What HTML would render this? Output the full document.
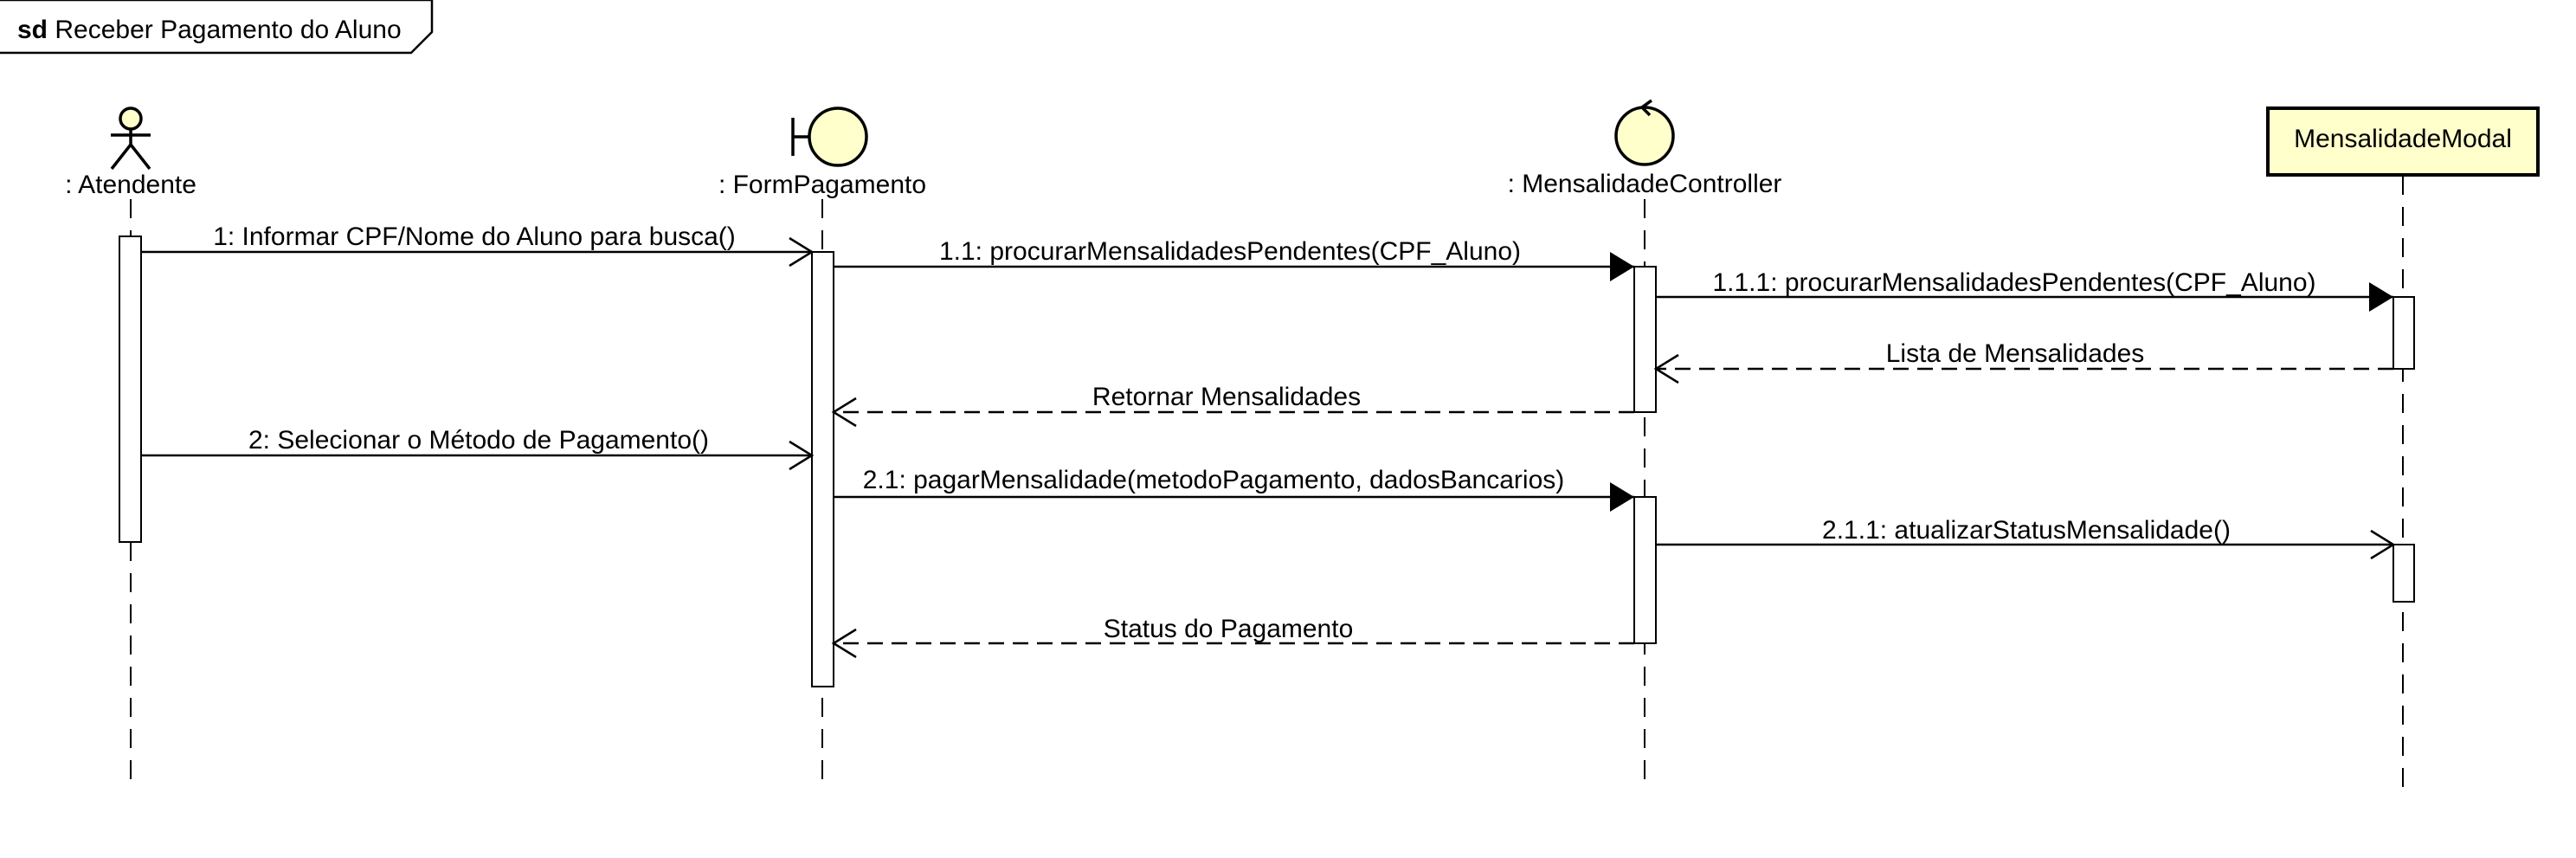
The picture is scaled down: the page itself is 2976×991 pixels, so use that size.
<!DOCTYPE html>
<html><head><meta charset="utf-8"><style>
html,body{margin:0;padding:0;background:#fff;}
svg{display:block;}
text{font-family:"Liberation Sans",Arial,sans-serif;font-size:30px;fill:#000;}
</style></head><body>
<svg width="2976" height="991" viewBox="0 0 2976 991" xmlns="http://www.w3.org/2000/svg">
<defs>
<marker id="f" markerWidth="30" markerHeight="34" refX="28" refY="17" orient="auto" markerUnits="userSpaceOnUse"><path d="M0,0 L28,17 L0,34 Z" fill="#000"/></marker>
</defs>
<path d="M0,0 L499,0 L499,37 L475,61 L0,61" fill="none" stroke="#000" stroke-width="2.5"/>
<text x="20" y="44"><tspan font-weight="bold">sd</tspan> Receber Pagamento do Aluno</text>

<g stroke="#000" stroke-width="2" stroke-dasharray="22,14" fill="none">
<line x1="151" y1="230" x2="151" y2="912"/>
<line x1="950" y1="230" x2="950" y2="912"/>
<line x1="1900" y1="230" x2="1900" y2="912"/>
<line x1="2776" y1="203" x2="2776" y2="912"/>
</g>

<circle cx="151" cy="137" r="12" fill="#ffffcc" stroke="#000" stroke-width="3.5"/>
<g stroke="#000" stroke-width="3.5" fill="none">
<line x1="151" y1="149" x2="151" y2="167"/>
<line x1="128" y1="156" x2="174" y2="156"/>
<path d="M129,195 L151,167 L173,195"/>
</g>
<text x="151" y="223" text-anchor="middle">: Atendente</text>

<g stroke="#000" stroke-width="3.5">
<line x1="916" y1="136" x2="916" y2="180"/>
<line x1="916" y1="158" x2="935" y2="158"/>
<circle cx="968" cy="158" r="33" fill="#ffffcc"/>
</g>
<text x="950" y="223" text-anchor="middle">: FormPagamento</text>

<circle cx="1900" cy="157" r="33" fill="#ffffcc" stroke="#000" stroke-width="3.5"/>
<path d="M1908,116 L1897,124 L1906,133" fill="none" stroke="#000" stroke-width="3.5"/>
<text x="1900" y="222" text-anchor="middle">: MensalidadeController</text>

<rect x="2620" y="125" width="312" height="77" fill="#ffffcc" stroke="#000" stroke-width="4"/>
<text x="2776" y="170" text-anchor="middle">MensalidadeModal</text>

<g fill="#fff" stroke="#000" stroke-width="2">
<rect x="138" y="273" width="25" height="353"/>
<rect x="938" y="291" width="25" height="502"/>
<rect x="1888" y="308" width="25" height="168"/>
<rect x="1888" y="574" width="25" height="169"/>
<rect x="2765" y="343" width="24" height="83"/>
<rect x="2765" y="629" width="24" height="66"/>
</g>

<g stroke="#000" stroke-width="2.5" fill="none">
<line x1="163" y1="291" x2="938" y2="291"/>
<path d="M912,275 L938,291 L912,307"/>
<line x1="963" y1="308" x2="1888" y2="308" marker-end="url(#f)"/>
<line x1="1913" y1="343" x2="2765" y2="343" marker-end="url(#f)"/>
<line x1="2765" y1="426" x2="1913" y2="426" stroke-dasharray="18,10"/>
<path d="M1939,410 L1913,426 L1939,442"/>
<line x1="1888" y1="476" x2="963" y2="476" stroke-dasharray="18,10"/>
<path d="M989,460 L963,476 L989,492"/>
<line x1="163" y1="526" x2="938" y2="526"/>
<path d="M912,510 L938,526 L912,542"/>
<line x1="963" y1="574" x2="1888" y2="574" marker-end="url(#f)"/>
<line x1="1913" y1="629" x2="2765" y2="629"/>
<path d="M2739,613 L2765,629 L2739,645"/>
<line x1="1888" y1="743" x2="963" y2="743" stroke-dasharray="18,10"/>
<path d="M989,727 L963,743 L989,759"/>
</g>

<text x="548" y="283" text-anchor="middle">1: Informar CPF/Nome do Aluno para busca()</text>
<text x="1421" y="300" text-anchor="middle">1.1: procurarMensalidadesPendentes(CPF_Aluno)</text>
<text x="2327" y="336" text-anchor="middle">1.1.1: procurarMensalidadesPendentes(CPF_Aluno)</text>
<text x="2328" y="418" text-anchor="middle">Lista de Mensalidades</text>
<text x="1417" y="468" text-anchor="middle">Retornar Mensalidades</text>
<text x="553" y="518" text-anchor="middle">2: Selecionar o Método de Pagamento()</text>
<text x="1402" y="564" text-anchor="middle">2.1: pagarMensalidade(metodoPagamento, dadosBancarios)</text>
<text x="2341" y="622" text-anchor="middle">2.1.1: atualizarStatusMensalidade()</text>
<text x="1419" y="736" text-anchor="middle">Status do Pagamento</text>
</svg>
</body></html>
